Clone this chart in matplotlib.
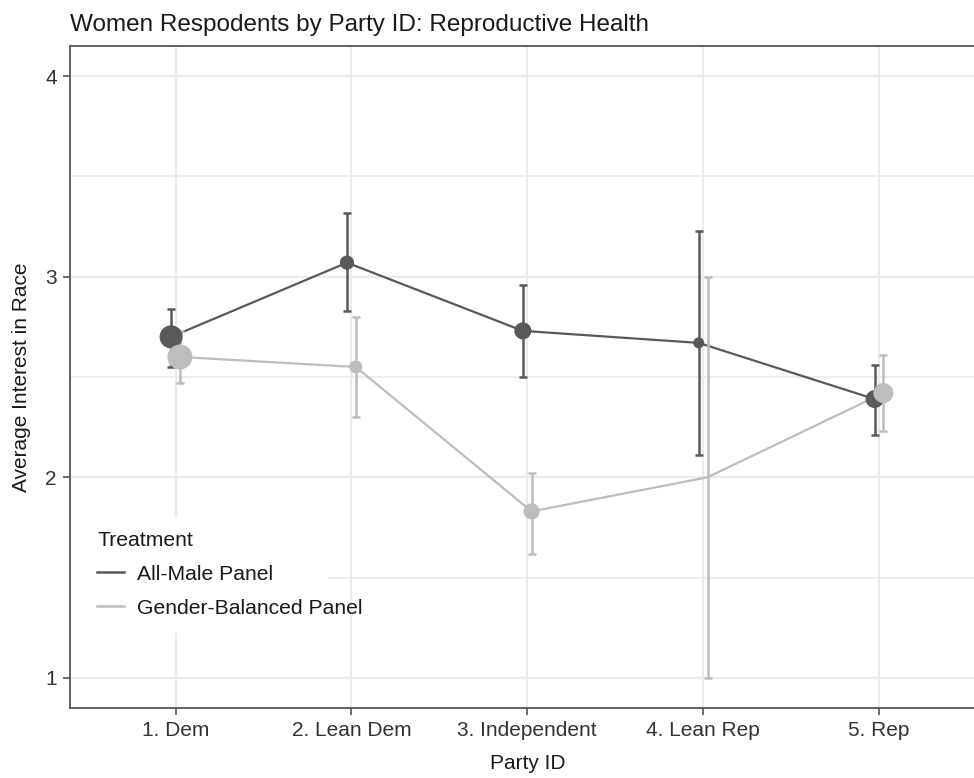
import matplotlib.pyplot as plt
from matplotlib.lines import Line2D
from matplotlib.patches import Rectangle
import numpy as np

plt.rcParams['font.family'] = ['Liberation Sans', 'DejaVu Sans']

# Data
party = ['1. Dem', '2. Lean Dem', '3. Independent', '4. Lean Rep', '5. Rep']
treatments = ['All-Male Panel', 'Gender-Balanced Panel']

male_mean = [2.70, 3.07, 2.73, 2.67, 2.39]
male_lo = [2.55, 2.83, 2.50, 2.11, 2.21]
male_hi = [2.84, 3.32, 2.96, 3.23, 2.56]
male_n = [53, 20, 29, 12, 32]

bal_mean = [2.60, 2.55, 1.83, 2.00, 2.42]
bal_lo = [2.47, 2.30, 1.62, 1.00, 2.23]
bal_hi = [2.73, 2.80, 2.02, 3.00, 2.61]
bal_n = [62, 17, 26, 1, 40]

dark = '#595959'
light = '#bdbdbd'
grid_c = '#ebebeb'
axis_c = '#555555'
txt_c = '#333333'

fig = plt.figure(figsize=(9.74, 7.78), dpi=100)
ax = fig.add_axes([70 / 974, 70 / 778, (984.5 - 70) / 974, (708 - 46) / 778])

x = np.arange(1, len(party) + 1)
dodge = 0.025

series = [
    (male_mean, male_lo, male_hi, male_n, dark, -dodge),
    (bal_mean, bal_lo, bal_hi, bal_n, light, dodge),
]

for mean, lo, hi, n, col, off in series:
    xs = x + off
    mean = np.array(mean)
    yerr = [mean - np.array(lo), np.array(hi) - mean]
    ax.plot(xs, mean, color=col, lw=1.6, zorder=3)
    ax.errorbar(xs, mean, yerr=yerr, fmt='none', ecolor=col, elinewidth=1.8,
                capsize=2.8, capthick=1.8, zorder=4)

for mean, lo, hi, n, col, off in series:
    ax.scatter(x + off, mean, s=np.array(n) * 5.2, color=col, edgecolors='none', zorder=5)

ax.set_xlim(0.4, 5.6)
ax.set_ylim(0.85, 4.15)
ax.set_xticks(x)
ax.set_xticklabels(party)
ax.set_yticks([1, 2, 3, 4])
ax.set_yticks([1.5, 2.5, 3.5], minor=True)
ax.tick_params(axis='both', which='major', labelsize=15, colors=axis_c, labelcolor=txt_c,
               length=5, width=1.2, pad=4.5)
ax.tick_params(axis='y', which='minor', length=0)
ax.grid(which='major', color=grid_c, lw=1.6, zorder=0)
ax.grid(which='minor', axis='y', color=grid_c, lw=1.2, zorder=0)
ax.set_axisbelow(True)

for side in ['left', 'bottom', 'top']:
    ax.spines[side].set_color(axis_c)
    ax.spines[side].set_linewidth(1.3)
    ax.spines[side].set_zorder(10)
ax.spines['right'].set_visible(False)

ax.set_xlabel('Party ID', fontsize=15, color='#1a1a1a', labelpad=10)
ax.set_ylabel('Average Interest in Race', fontsize=15, color='#1a1a1a', labelpad=10)
fig.text(70 / 974, 1 - 31 / 778, 'Women Respodents by Party ID: Reproductive Health',
         fontsize=17.5, color='#1a1a1a', ha='left', va='baseline')

# legend box inside the panel
ax.add_patch(Rectangle((0, 75 / 662), 258 / 914.5, 116 / 662, transform=ax.transAxes,
                       facecolor='white', edgecolor='none', zorder=8))
handles = [Line2D([0], [0], color=dark, lw=1.8), Line2D([0], [0], color=light, lw=1.8)]
leg = ax.legend(handles, treatments, title='Treatment', loc='upper left',
                bbox_to_anchor=(27 / 914.5, (708 - 531) / 662), frameon=False,
                borderpad=0, borderaxespad=0, fontsize=15.2, title_fontsize=15.2,
                handlelength=1.3, handletextpad=0.6, labelspacing=0.7)
leg._legend_box.align = 'left'
leg.set_zorder(9)
for t in leg.get_texts():
    t.set_color('#1a1a1a')
leg.get_title().set_color('#1a1a1a')

fig.savefig('out.png', dpi=100)
